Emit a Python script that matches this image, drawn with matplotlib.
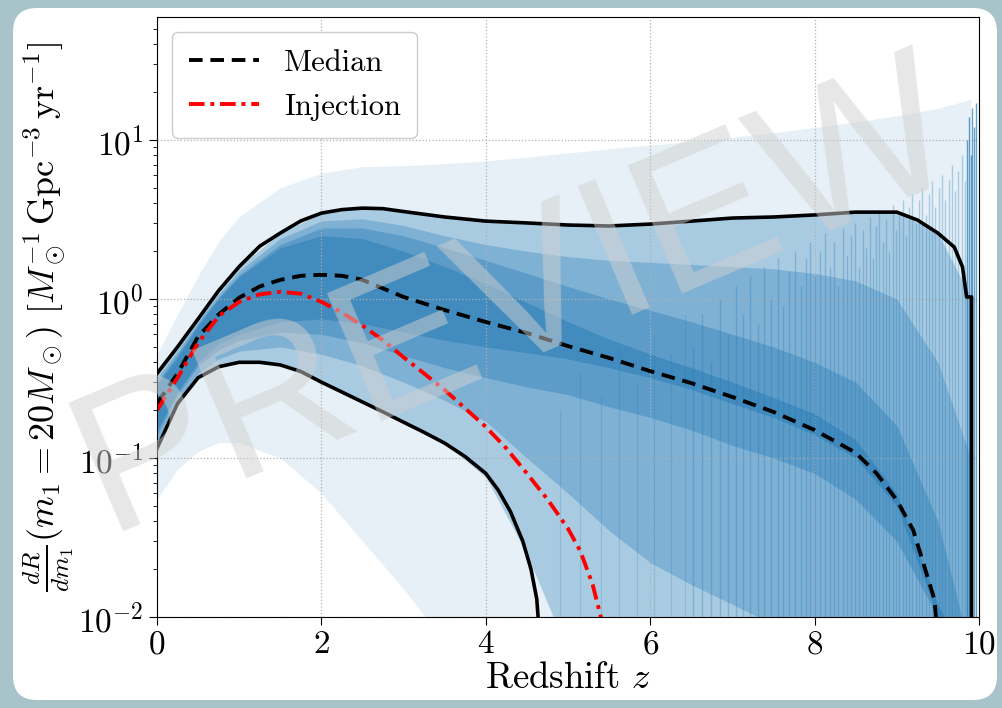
import numpy as np
import matplotlib
matplotlib.use('Agg')
import matplotlib.pyplot as plt
from matplotlib.patches import FancyBboxPatch

plt.rcParams['font.family'] = 'serif'
plt.rcParams['font.serif'] = ['cmr10']
plt.rcParams['mathtext.fontset'] = 'cm'
plt.rcParams['axes.unicode_minus'] = False
plt.rcParams['axes.formatter.use_mathtext'] = True

# posterior band (quantiles)
zb = [0, 0.25, 0.5, 0.75, 1.0, 1.5, 2.0, 2.5, 3.0, 3.5, 4.0, 4.5, 5.0, 5.5,
      6.0, 6.5, 7.0, 7.5, 8.0, 8.5, 9.0, 9.5, 9.9]
env_lo = [0.055, 0.085, 0.11, 0.125, 0.125, 0.1, 0.06, 0.03, 0.015, 0.007, 0.004, 0.004,
          0.004, 0.004, 0.004, 0.004, 0.004, 0.004, 0.004, 0.004, 0.004, 0.004, 0.004]
env_hi = [0.45, 0.8, 1.4, 2.3, 3.3, 5.0, 6.2, 6.8, 6.9, 7.1, 7.4, 7.8, 8.3, 8.8,
          9.3, 9.8, 10.4, 11.1, 12.0, 13.0, 14.2, 15.8, 18.0]
lo90 = [0.115, 0.22, 0.32, 0.375, 0.40, 0.385, 0.30, 0.225, 0.168, 0.124, 0.076, 0.025,
        0.006, 0.004, 0.004, 0.004, 0.004, 0.004, 0.004, 0.004, 0.004, 0.004, 0.004]
hi90 = [0.34, 0.5, 0.75, 1.13, 1.6, 2.6, 3.47, 3.73, 3.55, 3.28, 3.09, 3.01, 2.92, 2.88,
        2.96, 3.09, 3.23, 3.28, 3.38, 3.52, 3.52, 2.6, 1.03]
lo68 = [0.125, 0.23, 0.34, 0.42, 0.47, 0.50, 0.45, 0.38, 0.30, 0.23, 0.17, 0.10,
        0.06, 0.035, 0.022, 0.016, 0.012, 0.009, 0.007, 0.005, 0.004, 0.004, 0.004]
hi68 = [0.32, 0.47, 0.72, 1.07, 1.5, 2.4, 3.1, 3.2, 2.9, 2.5, 2.2, 2.0, 1.85, 1.75,
        1.7, 1.65, 1.6, 1.55, 1.45, 1.3, 1.0, 0.4, 0.1]
lo50 = [0.14, 0.25, 0.38, 0.48, 0.55, 0.62, 0.60, 0.53, 0.44, 0.37, 0.32, 0.28,
        0.25, 0.21, 0.18, 0.15, 0.12, 0.10, 0.08, 0.055, 0.03, 0.01, 0.005]
hi50 = [0.30, 0.45, 0.70, 1.03, 1.42, 2.2, 2.8, 2.8, 2.5, 2.1, 1.75, 1.45, 1.2, 1.0,
        0.85, 0.72, 0.6, 0.5, 0.4, 0.3, 0.16, 0.04, 0.006]
lo30 = [0.15, 0.26, 0.40, 0.52, 0.60, 0.72, 0.75, 0.70, 0.62, 0.55, 0.50, 0.46,
        0.42, 0.37, 0.32, 0.27, 0.22, 0.18, 0.14, 0.10, 0.05, 0.01, 0.005]
hi30 = [0.29, 0.43, 0.68, 1.0, 1.38, 2.1, 2.5, 2.4, 2.0, 1.6, 1.25, 0.95,
        0.72, 0.56, 0.45, 0.37, 0.3, 0.24, 0.19, 0.13, 0.06, 0.012, 0.005]

# high-z cutoffs of individual draws
vz = [6.52, 6.63, 6.74, 6.85, 6.95, 7.04, 7.13, 7.22, 7.31, 7.39,
      7.47, 7.55, 7.62, 7.69, 7.76, 7.83, 7.89, 7.95, 8.01, 8.07,
      8.13, 8.19, 8.24, 8.29, 8.34, 8.39, 8.44, 8.49, 8.54, 8.59,
      8.63, 8.67, 8.71, 8.75, 8.79, 8.83, 8.87, 8.91, 8.95, 8.99,
      9.03, 9.07, 9.11, 9.15, 9.19, 9.23, 9.27, 9.31, 9.35, 9.39,
      9.43, 9.47, 9.51, 9.55, 9.59, 9.63, 9.67, 9.71, 9.75, 9.79, 9.83]
vtop = [0.5, 0.8, 0.4, 1.0, 0.6, 1.2, 0.8, 1.4, 0.7, 1.6,
        1.0, 1.8, 0.9, 1.5, 2.0, 1.2, 1.8, 2.3, 1.4, 2.0,
        2.6, 1.6, 2.3, 1.2, 2.8, 1.9, 2.5, 3.0, 1.6, 2.7,
        2.1, 3.3, 1.8, 2.9, 3.6, 2.3, 3.2, 2.0, 3.9, 2.7,
        3.4, 4.2, 2.5, 3.8, 4.6, 3.0, 4.2, 5.0, 3.4, 4.6,
        5.5, 3.8, 5.0, 6.0, 4.2, 5.6, 7.0, 4.8, 6.4, 8.0, 5.5]
vz_faint = [4.9, 5.15, 5.4, 5.62, 5.84, 6.05, 6.25, 6.42]
vtop_faint = [0.2, 0.35, 0.25, 0.5, 0.3, 0.6, 0.45, 0.8]
vz_edge = [9.86, 9.88, 9.9, 9.92, 9.94, 9.96]
vtop_edge = [10.0, 14.0, 8.0, 16.0, 12.0, 17.0]

# summary curves
z_up = [0, 0.25, 0.5, 0.75, 1.0, 1.25, 1.5, 1.75, 2.0, 2.25, 2.5, 2.75, 3.0, 3.5, 4.0,
        4.5, 5.0, 5.5, 6.0, 6.5, 7.0, 7.5, 8.0, 8.5, 9.0, 9.25, 9.5, 9.7, 9.8, 9.85,
        9.91, 9.91]
r_up = [0.34, 0.5, 0.75, 1.13, 1.6, 2.15, 2.6, 3.1, 3.47, 3.65, 3.73, 3.7, 3.55, 3.28,
        3.09, 3.01, 2.92, 2.88, 2.96, 3.09, 3.23, 3.28, 3.38, 3.52, 3.52, 3.14, 2.6,
        2.12, 1.59, 1.03, 1.03, 0.005]
z_med = [0, 0.25, 0.5, 0.75, 1.0, 1.25, 1.5, 1.75, 2.0, 2.25, 2.5, 3.0, 3.5, 4.0, 4.5,
         5.0, 5.5, 6.0, 6.5, 7.0, 7.5, 8.0, 8.5, 8.75, 9.0, 9.2, 9.36, 9.46, 9.52]
r_med = [0.22, 0.34, 0.58, 0.80, 1.02, 1.2, 1.32, 1.40, 1.42, 1.40, 1.32, 1.03, 0.853,
         0.717, 0.611, 0.506, 0.426, 0.352, 0.296, 0.242, 0.195, 0.150, 0.108, 0.0805,
         0.0544, 0.0352, 0.0189, 0.0128, 0.005]
z_lo = [0, 0.25, 0.5, 0.75, 1.0, 1.25, 1.5, 1.75, 2.0, 2.25, 2.5, 2.75, 3.0, 3.25, 3.5,
        3.75, 4.0, 4.15, 4.3, 4.45, 4.55, 4.62, 4.68]
r_lo = [0.115, 0.22, 0.32, 0.375, 0.40, 0.40, 0.385, 0.35, 0.30, 0.26, 0.225, 0.195,
        0.168, 0.145, 0.124, 0.102, 0.08, 0.063, 0.046, 0.03, 0.02, 0.013, 0.005]
z_inj = [0, 0.25, 0.5, 0.75, 1.0, 1.25, 1.5, 1.75, 2.0, 2.25, 2.5, 2.75, 3.0, 3.25, 3.5,
         3.75, 4.0, 4.25, 4.5, 4.75, 5.0, 5.15, 5.3, 5.4, 5.45]
r_inj = [0.20, 0.32, 0.53, 0.78, 0.96, 1.07, 1.11, 1.08, 0.96, 0.82, 0.68, 0.55, 0.43,
         0.34, 0.268, 0.205, 0.157, 0.115, 0.080, 0.055, 0.036, 0.026, 0.016, 0.01, 0.007]

blue = '#1f77b4'

fig = plt.figure(figsize=(10.02, 7.08), dpi=100)
fig.patch.set_facecolor('#a9c3cb')
panel = FancyBboxPatch((13, 8), 984, 692, boxstyle='round,pad=0,rounding_size=24',
                       transform=None, facecolor='white', edgecolor='none', zorder=-10)
fig.add_artist(panel)

ax = fig.add_axes([0.1567, 0.1285, 0.8203, 0.8475])
ax.set_yscale('log')

ax.fill_between(zb, env_lo, env_hi, color=blue, alpha=0.11, lw=0)
ax.fill_between(zb, lo90, hi90, color=blue, alpha=0.3, lw=0)
ax.fill_between(zb, lo68, hi68, color=blue, alpha=0.3, lw=0)
ax.fill_between(zb, lo50, hi50, color=blue, alpha=0.35, lw=0)
ax.fill_between(zb, lo30, hi30, color=blue, alpha=0.45, lw=0)
ax.vlines(vz_faint, 0.005, vtop_faint, color=blue, alpha=0.2, lw=0.9)
ax.vlines(vz, 0.005, vtop, color=blue, alpha=0.3, lw=1.0)
ax.vlines(vz_edge, 0.005, vtop_edge, color=blue, alpha=0.7, lw=1.0)

ax.plot(z_up, r_up, color='black', lw=2.6)
ax.plot(z_lo, r_lo, color='black', lw=2.6)
ax.plot(z_med, r_med, color='black', lw=2.8, ls=(0, (3.5, 2)), label='Median')
ax.plot(z_inj, r_inj, color='red', lw=2.8, ls=(0, (4, 1.5, 1, 1.5)), label='Injection')

ax.set_xlim(0, 10)
ax.set_ylim(0.01, 59.4)
ax.set_xticks([0, 2, 4, 6, 8, 10])
ax.grid(True, which='major', ls=':', color='#b0b0b0', lw=0.9)
ax.tick_params(axis='both', which='major', labelsize=24, length=6)
ax.tick_params(axis='y', which='minor', length=3)

ax.set_xlabel(r'Redshift $z$', fontsize=26.5, labelpad=2)
ax.set_ylabel(r'$\frac{dR}{dm_1}(m_1 = 20M_\odot)\ [M_\odot^{-1}\,\mathrm{Gpc}^{-3}\,\mathrm{yr}^{-1}]$',
              fontsize=26, labelpad=2)

ax.legend(loc='upper left', fontsize=22, handlelength=2.3, framealpha=1,
          edgecolor='#cccccc', borderpad=0.55, labelspacing=0.55)

fig.text(0.515, 0.575, 'PREVIEW', fontsize=146, family='Liberation Sans',
         color='#d0d0d0', alpha=0.5, rotation=23, ha='center', va='center', zorder=20)

fig.savefig('out.png', dpi=100, facecolor=fig.get_facecolor())
